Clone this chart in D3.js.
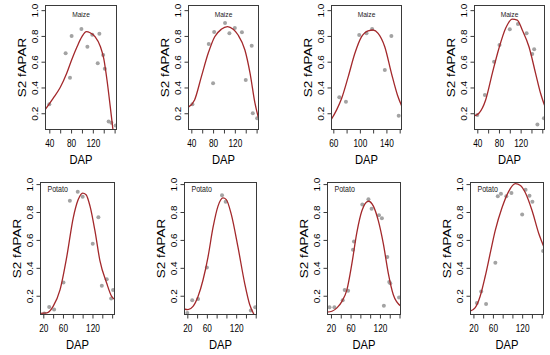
<!DOCTYPE html>
<html><head><meta charset="utf-8">
<script src="https://cdn.jsdelivr.net/npm/d3@7"></script>
<style>body{margin:0;background:#fff}svg{display:block}text{font-family:"Liberation Sans",Arial,Helvetica,sans-serif}</style>
</head><body>
<svg id="c" width="550" height="355"></svg>
<script>
// ---------- data ----------
const maize1DAP   = [40,70,78,81,99,110,119,132,129,139,142,149,154,162];
const maize1FAPAR = [0.27,0.665,0.476,0.80,0.853,0.716,0.81,0.817,0.588,0.652,0.546,0.135,0.127,0.104];
const maize1FitDAP   = [32,47,60,72,81,91,100,108,115,124,134,140,146,152,157];
const maize1FitFAPAR = [0.226,0.316,0.40,0.51,0.613,0.716,0.794,0.833,0.825,0.794,0.716,0.626,0.458,0.251,0.071];

const maize2DAP   = [42,72,80,82,102,110,120,133,140,151,153,161];
const maize2FAPAR = [0.27,0.737,0.433,0.83,0.90,0.82,0.861,0.828,0.458,0.724,0.20,0.161];
const maize2FitDAP   = [34,46,58.5,71,83,95,106.5,117,126,138.5,148,157,164.4];
const maize2FitFAPAR = [0.246,0.303,0.484,0.665,0.794,0.851,0.872,0.851,0.807,0.691,0.51,0.278,0.148];

const maize3DAP   = [69,79,99,110,118.5,147.5,137.6,158.5];
const maize3FAPAR = [0.324,0.29,0.807,0.82,0.853,0.80,0.536,0.181];
const maize3FitDAP   = [56.5,65,72.6,82.5,92.5,102.6,112.5,120,127.5,137.5,147.6,156.6,163.5];
const maize3FitFAPAR = [0.148,0.226,0.316,0.484,0.665,0.794,0.84,0.846,0.82,0.716,0.51,0.342,0.251];

const maize4DAP   = [40,54,71,81,100,115,131,141.5,145,151,163];
const maize4FAPAR = [0.187,0.342,0.60,0.73,0.851,0.892,0.82,0.66,0.696,0.112,0.161];
const maize4FitDAP   = [34,43,55.4,67.7,80,92.3,104.6,113.8,123,135.4,147.6,156.8,165];
const maize4FitFAPAR = [0.179,0.2,0.303,0.51,0.704,0.859,0.931,0.923,0.846,0.716,0.51,0.355,0.251];

const potato1DAP   = [22,32,42,61,74,90,100,132,120.5,139,149,158,162];
const potato1FAPAR = [0.073,0.12,0.101,0.294,0.88,0.945,0.909,0.762,0.573,0.271,0.318,0.18,0.242];
const potato1FitDAP   = [13.3,27,40,54,67.6,81,91,100,107,115,125,135,149,159,165.8];
const potato1FitFAPAR = [0.073,0.077,0.124,0.242,0.477,0.76,0.889,0.936,0.924,0.842,0.666,0.454,0.289,0.195,0.172];

const potato2DAP   = [20,30,42,60,91,98.5,150,159];
const potato2FAPAR = [0.077,0.167,0.176,0.402,0.92,0.873,0.094,0.117];
const potato2FitDAP   = [13.2,21.4,31.7,41.9,52.1,62.3,72.6,82.8,93,99.8,110,123.7,137.4,147.6,156.4];
const potato2FitFAPAR = [0.105,0.101,0.124,0.195,0.313,0.477,0.689,0.842,0.901,0.889,0.783,0.548,0.289,0.137,0.066];

const potato3DAP   = [17,27,44,48,55,65,67,84,96.5,103,118,124,135,139,141,128,159];
const potato3FAPAR = [0.117,0.117,0.167,0.242,0.235,0.529,0.588,0.853,0.892,0.823,0.776,0.755,0.477,0.299,0.289,0.129,0.188];
const potato3FitDAP   = [11.9,22,32.2,42.4,52.5,62.7,72.9,83,96.5,106.6,116.8,127,137.1,147.3,163];
const potato3FitFAPAR = [0.082,0.089,0.113,0.16,0.242,0.43,0.654,0.807,0.877,0.842,0.736,0.571,0.36,0.207,0.124];

const potato4DAP   = [27,36,46,65,70,76.5,87.5,98,120,127,135,141,163];
const potato4FAPAR = [0.148,0.23,0.141,0.437,0.913,0.931,0.913,0.936,0.783,0.959,0.917,0.873,0.52];
const potato4FitDAP   = [13,23.3,33.7,44,54.3,64.7,78.6,92.4,106.1,116.4,126.8,140.6,154.4,164.8];
const potato4FitFAPAR = [0.089,0.113,0.195,0.336,0.501,0.666,0.83,0.948,1.003,0.99,0.936,0.807,0.642,0.548];

const yTickValues = [0.2,0.4,0.6,0.8,1.0];
const xTicksMaize  = [40,60,80,100,120,140,160];
const xTicksMaize3 = [60,80,100,120,140,160];
const xTicksPotato = [20,40,60,80,100,120,140,160];
const xLabelsMaize  = [40,80,120];
const xLabelsMaize3 = [60,100,140];
const xLabelsPotato = [20,60,120];
const xTitle = "DAP";
const yTitle = "S2 fAPAR";

// ---------- layout ----------
const panels = [
  {crop:"Maize", dap:maize1DAP, fapar:maize1FAPAR, fx:maize1FitDAP, fy:maize1FitFAPAR, xt:xTicksMaize, xl:xLabelsMaize, box:[45,5,117,130], xd:[32.1,164.4], yd:[0.07,1.04]},
  {crop:"Maize", dap:maize2DAP, fapar:maize2FAPAR, fx:maize2FitDAP, fy:maize2FitFAPAR, xt:xTicksMaize, xl:xLabelsMaize, box:[188,5,259,130], xd:[33.9,164.4], yd:[0.07,1.04]},
  {crop:"Maize", dap:maize3DAP, fapar:maize3FAPAR, fx:maize3FitDAP, fy:maize3FitFAPAR, xt:xTicksMaize3, xl:xLabelsMaize3, box:[331,5,402,130], xd:[56.5,163.5], yd:[0.07,1.04]},
  {crop:"Maize", dap:maize4DAP, fapar:maize4FAPAR, fx:maize4FitDAP, fy:maize4FitFAPAR, xt:xTicksMaize, xl:xLabelsMaize, box:[474,5,545,130], xd:[33.9,165], yd:[0.07,1.04]},
  {crop:"Potato", dap:potato1DAP, fapar:potato1FAPAR, fx:potato1FitDAP, fy:potato1FitFAPAR, xt:xTicksPotato, xl:xLabelsPotato, box:[40,182,115,315], xd:[13.3,165.8], yd:[0.062,1.015]},
  {crop:"Potato", dap:potato2DAP, fapar:potato2FAPAR, fx:potato2FitDAP, fy:potato2FitFAPAR, xt:xTicksPotato, xl:xLabelsPotato, box:[184,182,257,315], xd:[13.2,162.6], yd:[0.062,1.015]},
  {crop:"Potato", dap:potato3DAP, fapar:potato3FAPAR, fx:potato3FitDAP, fy:potato3FitFAPAR, xt:xTicksPotato, xl:xLabelsPotato, box:[327,182,401,315], xd:[11.9,163], yd:[0.062,1.015]},
  {crop:"Potato", dap:potato4DAP, fapar:potato4FAPAR, fx:potato4FitDAP, fy:potato4FitFAPAR, xt:xTicksPotato, xl:xLabelsPotato, box:[470,182,544,315], xd:[13,164.8], yd:[0.062,1.015]}
];

const svg = d3.select("#c");
const SQ = 0.83; // horizontal squeeze of the original figure
const tickFont = 10, titleFont = 13.5;

panels.forEach((p, i) => {
  const [l,t,r,b] = p.box;
  const x = d3.scaleLinear().domain(p.xd).range([l,r]);
  const y = d3.scaleLinear().domain(p.yd).range([b,t]);
  const g = svg.append("g");
  const cid = "clip"+i;
  svg.append("clipPath").attr("id",cid).append("rect")
     .attr("x",l).attr("y",t).attr("width",r-l).attr("height",b-t);

  const plot = g.append("g").attr("clip-path",`url(#${cid})`);
  plot.selectAll("circle").data(p.dap.map((d,k)=>[d,p.fapar[k]])).enter()
    .append("circle").attr("cx",d=>x(d[0])).attr("cy",d=>y(d[1])).attr("r",2)
    .attr("fill","#a3a3a3");
  const line = d3.line().x(d=>x(d[0])).y(d=>y(d[1])).curve(d3.curveMonotoneX);
  plot.append("path").datum(p.fx.map((d,k)=>[d,p.fy[k]]))
    .attr("d",line).attr("fill","none").attr("stroke","#a3282b").attr("stroke-width",1.3);

  g.append("rect").attr("x",l+0.5).attr("y",t+0.5).attr("width",r-l-1).attr("height",b-t-1)
    .attr("fill","none").attr("stroke","#3a3a3a").attr("stroke-width",1);

  // x axis
  const xa = g.append("g").attr("transform",`translate(0,${b-0.5})`)
    .call(d3.axisBottom(x).tickValues(p.xt).tickSize(4).tickPadding(6)
      .tickFormat(d => p.xl.includes(d) ? d : ""));
  xa.select(".domain").remove();
  xa.selectAll("line").attr("stroke","#3a3a3a");
  xa.selectAll("text").attr("font-size",tickFont).attr("fill","#000")
    .attr("transform",`scale(${SQ},1)`).style("font-family",'"Liberation Sans",Arial,sans-serif');

  // y axis
  const ya = g.append("g").attr("transform",`translate(${l+0.5},0)`)
    .call(d3.axisLeft(y).tickValues(yTickValues).tickSize(4).tickFormat(d3.format(".1f")));
  ya.select(".domain").remove();
  ya.selectAll("line").attr("stroke","#3a3a3a");
  ya.selectAll("text").attr("x",0).attr("dy","0.35em").attr("font-size",tickFont)
    .attr("fill","#000").attr("text-anchor","middle")
    .attr("transform",`translate(-10,0) scale(${SQ},1) rotate(-90)`)
    .style("font-family",'"Liberation Sans",Arial,sans-serif');

  // titles
  g.append("text").attr("transform",`translate(${(l+r)/2},${b+34}) scale(${SQ},1)`)
    .attr("text-anchor","middle").attr("font-size",titleFont).attr("fill","#000").text(xTitle);
  g.append("text").attr("transform",`translate(${l-22.5},${(t+b)/2}) scale(${SQ},1) rotate(-90)`)
    .attr("text-anchor","middle").attr("dy","0.35em").attr("font-size",titleFont).attr("fill","#000").text(yTitle);

  // crop label
  if (p.crop === "Maize") {
    g.append("text").attr("transform",`translate(${(l+r)/2},${t+11.5}) scale(${SQ},1)`)
      .attr("text-anchor","middle").attr("font-size",8).attr("fill","#222").text(p.crop);
  } else {
    g.append("text").attr("transform",`translate(${l+7.5},${t+9.5}) scale(${SQ},1)`)
      .attr("text-anchor","start").attr("font-size",8.5).attr("fill","#222").text(p.crop);
  }
});
</script>
</body></html>
